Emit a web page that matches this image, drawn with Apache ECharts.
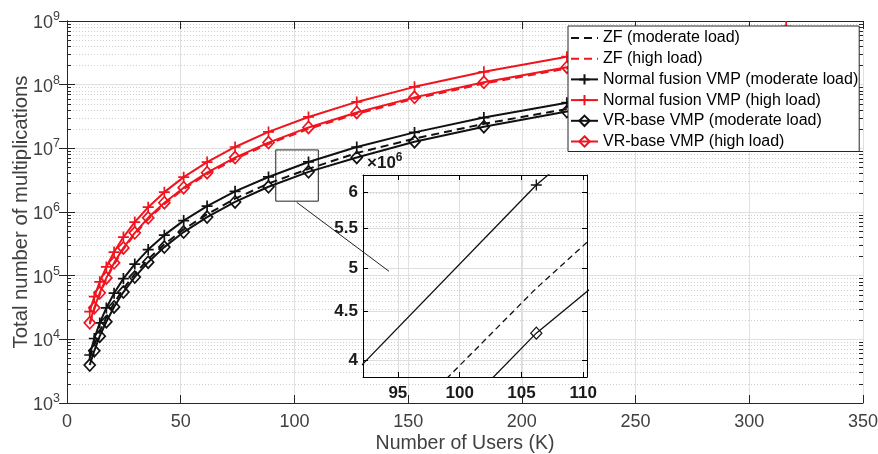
<!DOCTYPE html>
<html>
<head>
<meta charset="utf-8">
<script src="https://cdn.jsdelivr.net/npm/echarts@6/dist/echarts.min.js"></script>
<style>
html, body { margin: 0; padding: 0; background: #fff; }
#main { width: 878px; height: 454px; }
</style>
</head>
<body>
<div id="main"></div>
<script>
// number of users K (markers)
var users = [10.0, 12.0, 14.4, 17.3, 20.7, 24.8, 29.8, 35.7, 42.8, 51.3, 61.6, 73.9, 88.6, 106.2, 127.4, 152.8, 183.3, 219.8, 263.7, 316.2];

// total number of multiplications
var zfModerate = [5080, 8140, 13300, 22100, 37000, 62500, 106000, 182000, 311000, 534000, 918000, 1.62e6, 2.80e6, 4.76e6, 8.45e6, 1.42e7, 2.43e7, 4.15e7, 7.15e7, 1.23e8];
var zfHigh = [17300, 29700, 51000, 87700, 151000, 260000, 447000, 770000, 1.33e6, 2.29e6, 3.94e6, 6.79e6, 1.17e7, 2.02e7, 3.48e7, 6.00e7, 1.04e8, 1.79e8, 3.08e8, 5.31e8];
var nfModerate = [5670, 10300, 18100, 31100, 53100, 89900, 152000, 257000, 433000, 733000, 1.24e6, 2.11e6, 3.55e6, 6.11e6, 1.05e7, 1.78e7, 3.04e7, 5.21e7, 8.93e7, 1.53e8];
var nfHigh = [27300, 46700, 79900, 137000, 235000, 404000, 694000, 1.19e6, 2.05e6, 3.53e6, 6.08e6, 1.05e7, 1.81e7, 3.11e7, 5.36e7, 9.24e7, 1.59e8, 2.75e8, 4.74e8, 8.17e8];
var vrModerate = [3950, 6610, 11200, 18900, 32300, 55300, 95000, 163000, 281000, 484000, 833000, 1.44e6, 2.49e6, 4.27e6, 7.18e6, 1.27e7, 2.19e7, 3.78e7, 6.52e7, 1.12e8];
var vrHigh = [18200, 31300, 53700, 92300, 159000, 273000, 471000, 811000, 1.40e6, 2.41e6, 4.15e6, 7.15e6, 1.23e7, 2.13e7, 3.66e7, 6.32e7, 1.09e8, 1.88e8, 3.24e8, 5.59e8];

var names = ['ZF (moderate load)', 'ZF (high load)', 'Normal fusion VMP (moderate load)',
             'Normal fusion VMP (high load)', 'VR-base VMP (moderate load)', 'VR-base VMP (high load)'];

// inset ticks
var insetXTicks = [95, 100, 105, 110];
var insetYTicks = [4e6, 4.5e6, 5e6, 5.5e6, 6e6];

var FONT = '"Liberation Sans", Arial, Helvetica, sans-serif';
var BLACK = '#111111';
var RED = '#f0141e';
var AXIS = '#262626';
var TXT = '#404040';
var plusSym = 'path://M5,0L5,10M0,5L10,5';
var diamondSym = 'path://M5,0L10,5L5,10L0,5Z';

// minor log grid 2..9 x 10^n
var minorTicks = [];
[3, 4, 5, 6, 7, 8].forEach(function (e) {
  for (var m = 2; m <= 9; m++) minorTicks.push(m * Math.pow(10, e));
});

function pairs(vals) {
  return users.map(function (u, i) { return [u, vals[i]]; });
}

function makeSeries(name, vals, color, kind, inset) {
  var s = {
    name: inset ? name + ' inset' : name,
    type: 'line',
    xAxisIndex: inset ? 2 : 0,
    yAxisIndex: inset ? 4 : 0,
    data: pairs(vals),
    silent: true,
    clip: true,
    lineStyle: { color: color, width: inset ? 1.3 : 2, type: kind === 'dash' ? (inset ? [6, 4] : [8, 5]) : 'solid' },
    itemStyle: { color: 'rgba(0,0,0,0)', borderColor: color, borderWidth: inset ? 1.3 : 1.7 }
  };
  if (kind === 'dash') {
    s.symbol = 'none';
    s.itemStyle.borderWidth = 0;
  } else {
    s.symbol = kind === 'plus' ? plusSym : diamondSym;
    s.symbolSize = kind === 'plus' ? 11 : [11, 12];
    s.showAllSymbol = true;
  }
  return s;
}

var series = [
  makeSeries(names[0], zfModerate, BLACK, 'dash'),
  makeSeries(names[1], zfHigh, RED, 'dash'),
  makeSeries(names[2], nfModerate, BLACK, 'plus'),
  makeSeries(names[3], nfHigh, RED, 'plus'),
  makeSeries(names[4], vrModerate, BLACK, 'diamond'),
  makeSeries(names[5], vrHigh, RED, 'diamond'),
  makeSeries(names[0], zfModerate, BLACK, 'dash', true),
  makeSeries(names[2], nfModerate, BLACK, 'plus', true),
  makeSeries(names[4], vrModerate, BLACK, 'diamond', true)
];

// zoom rectangle and connector on the main axes
series[0].markArea = {
  silent: true,
  label: { show: false },
  itemStyle: { color: 'rgba(0,0,0,0)', borderColor: '#222', borderWidth: 1 },
  data: [[{ coord: [91.8, 1.48e6] }, { coord: [110.5, 9.44e6] }]]
};
series[0].markLine = {
  silent: true,
  symbol: ['none', 'none'],
  label: { show: false },
  lineStyle: { color: '#222', width: 1, type: 'solid' },
  data: [[{ coord: [101.0, 1.42e6] }, { coord: [141.6, 1.17e5] }]]
};

function supLabel(v) {
  var e = Math.round(Math.log10(v));
  return '{b|10}{s|' + e + '}';
}

var supRich = {
  b: { fontSize: 18, color: TXT, fontFamily: FONT, verticalAlign: 'bottom' },
  s: { fontSize: 12.5, color: TXT, fontFamily: FONT, verticalAlign: 'top', padding: [0, 0, 9, 0] }
};

var option = {
  animation: false,
  textStyle: { fontFamily: FONT },
  grid: [
    { left: 67, top: 21, width: 796, height: 382, outerBoundsMode: 'none', containLabel: false },
    { left: 363, top: 175, width: 224, height: 202, outerBoundsMode: 'none', containLabel: false }
  ],
  legend: {
    orient: 'vertical',
    left: 568,
    top: 26,
    padding: [4, 1, 2, 2],
    itemWidth: 27,
    itemHeight: 13,
    itemGap: 4.7,
    backgroundColor: '#fff',
    borderColor: AXIS,
    borderWidth: 1,
    borderRadius: 0,
    selectedMode: false,
    textStyle: { fontSize: 16, color: '#000', fontFamily: FONT },
    data: names
  },
  xAxis: [
    {
      type: 'value', gridIndex: 0, position: 'bottom', min: 0, max: 350, interval: 50,
      name: 'Number of Users (K)', nameLocation: 'middle', nameGap: 31, nameMoveOverlap: false,
      nameTextStyle: { fontSize: 19.5, color: TXT },
      axisLine: { show: true, lineStyle: { color: AXIS, width: 1 } },
      axisTick: { inside: true, length: 8, lineStyle: { color: AXIS } },
      axisLabel: { fontSize: 18, color: TXT, margin: 10 },
      splitLine: { show: true, lineStyle: { color: '#e0e0e0', width: 1 } }
    },
    {
      type: 'value', gridIndex: 0, position: 'top', min: 0, max: 350, interval: 50,
      axisLine: { show: true, lineStyle: { color: AXIS, width: 1 } },
      axisTick: { inside: true, length: 8, lineStyle: { color: AXIS } },
      axisLabel: { show: false },
      splitLine: { show: false }
    },
    {
      type: 'value', gridIndex: 1, position: 'bottom', min: 92.18, max: 110.3,
      axisLine: { show: true, onZero: false, lineStyle: { color: '#000', width: 1 } },
      axisTick: { inside: true, length: 5, lineStyle: { color: '#000' }, customValues: insetXTicks },
      axisLabel: { fontSize: 17, fontWeight: 'bold', color: '#1a1a1a', margin: 8, customValues: insetXTicks },
      splitLine: { show: true, lineStyle: { color: '#dedede', width: 1 } }
    },
    {
      type: 'value', gridIndex: 1, position: 'top', min: 92.18, max: 110.3,
      axisLine: { show: true, onZero: false, lineStyle: { color: '#000', width: 1 } },
      axisTick: { inside: true, length: 5, lineStyle: { color: '#000' }, customValues: insetXTicks },
      axisLabel: { show: false },
      splitLine: { show: false }
    }
  ],
  yAxis: [
    {
      type: 'log', logBase: 10, gridIndex: 0, position: 'left', min: 1e3, max: 1e9,
      name: 'Total number of multiplications', nameLocation: 'middle', nameGap: 36, nameMoveOverlap: false,
      nameTextStyle: { fontSize: 20.3, color: TXT },
      axisLine: { show: true, lineStyle: { color: AXIS, width: 1 } },
      axisTick: { inside: true, length: 8, lineStyle: { color: AXIS } },
      axisLabel: { margin: 7, formatter: supLabel, rich: supRich },
      splitLine: { show: true, lineStyle: { color: '#e0e0e0', width: 1 } }
    },
    {
      type: 'log', logBase: 10, gridIndex: 0, position: 'right', min: 1e3, max: 1e9,
      axisLine: { show: true, lineStyle: { color: AXIS, width: 1 } },
      axisTick: { inside: true, length: 8, lineStyle: { color: AXIS } },
      axisLabel: { show: false },
      splitLine: { show: false }
    },
    {
      type: 'log', logBase: 10, gridIndex: 0, position: 'left', min: 1e3, max: 1e9,
      axisLine: { show: false },
      axisTick: { inside: true, length: 4, lineStyle: { color: AXIS }, customValues: minorTicks },
      axisLabel: { show: false },
      splitLine: { show: true, lineStyle: { color: '#cfcfcf', width: 1, type: [1, 2] } }
    },
    {
      type: 'log', logBase: 10, gridIndex: 0, position: 'right', min: 1e3, max: 1e9,
      axisLine: { show: false },
      axisTick: { inside: true, length: 4, lineStyle: { color: AXIS }, customValues: minorTicks },
      axisLabel: { show: false },
      splitLine: { show: false }
    },
    {
      type: 'log', logBase: 10, gridIndex: 1, position: 'left', min: 3.84e6, max: 6.26e6,
      name: '{a|×10}{s|6}', nameLocation: 'end', nameGap: 3, nameMoveOverlap: false,
      nameTextStyle: {
        align: 'left', verticalAlign: 'bottom',
        rich: {
          a: { fontSize: 17, fontWeight: 'bold', color: '#1a1a1a', fontFamily: FONT, verticalAlign: 'bottom', padding: [0, 0, 0, 4] },
          s: { fontSize: 12, fontWeight: 'bold', color: '#1a1a1a', fontFamily: FONT, verticalAlign: 'top', padding: [0, 0, 8, 0] }
        }
      },
      axisLine: { show: true, lineStyle: { color: '#000', width: 1 } },
      axisTick: { inside: true, length: 5, lineStyle: { color: '#000' }, customValues: insetYTicks },
      axisLabel: {
        fontSize: 17, fontWeight: 'bold', color: '#1a1a1a', margin: 5, customValues: insetYTicks,
        formatter: function (v) { return String(Math.round(v / 1e5) / 10); }
      },
      splitLine: { show: true, lineStyle: { color: '#dedede', width: 1 } }
    },
    {
      type: 'log', logBase: 10, gridIndex: 1, position: 'right', min: 3.84e6, max: 6.26e6,
      axisLine: { show: true, lineStyle: { color: '#000', width: 1 } },
      axisTick: { inside: true, length: 5, lineStyle: { color: '#000' }, customValues: insetYTicks },
      axisLabel: { show: false },
      splitLine: { show: false }
    }
  ],
  series: series
};

var chart = echarts.init(document.getElementById('main'));
chart.setOption(option);
</script>
</body>
</html>
